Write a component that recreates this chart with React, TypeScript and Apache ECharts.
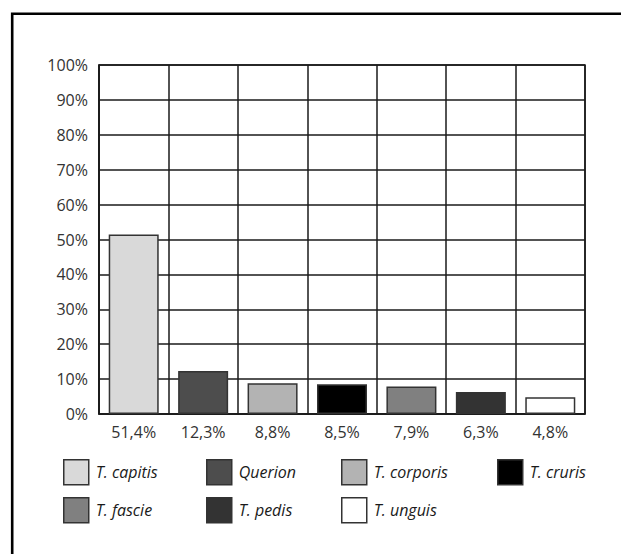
import React, { useEffect, useRef } from "react";
import * as echarts from "echarts";

// Species shown in the legend, one bar each
const species = [
  "T. capitis",
  "Querion",
  "T. corporis",
  "T. cruris",
  "T. fascie",
  "T. pedis",
  "T. unguis",
];

// Share of cases per species (%)
const shares = [51.4, 12.3, 8.8, 8.5, 7.9, 6.3, 4.8];

// Fill colour per species
const fills = ["#d9d9d9", "#4d4d4d", "#b3b3b3", "#000000", "#808080", "#333333", "#ffffff"];

// Legend layout: column x positions and row y positions
const legendCols = [63, 206, 341, 497];
const legendRows = [459, 497];

const FONT = "'Open Sans', 'Noto Sans', sans-serif";
const LINE = "#1a1a1a";

function formatPct(v: number): string {
  return v.toFixed(1).replace(".", ",") + "%";
}

export default function App() {
  const ref = useRef<HTMLDivElement>(null);

  useEffect(() => {
    document.body.style.margin = "0";
    if (!ref.current) return;
    const chart = echarts.init(ref.current, null, { renderer: "svg" });

    const series = species.map((name, i) => ({
      name,
      type: "bar",
      barWidth: 50,
      barGap: "-100%",
      data: shares.map((v, j) => (j === i ? v : "-")),
      itemStyle: { color: fills[i], borderColor: "#333333", borderWidth: 1.5 },
    }));

    const legends = species.map((name, i) => ({
      data: [name],
      left: legendCols[i % 4],
      top: legendRows[Math.floor(i / 4)],
      padding: 0,
      itemWidth: 25,
      itemHeight: 25,
      selectedMode: false,
      icon: "rect",
      itemStyle: { borderColor: "#333333", borderWidth: 1.5 },
      textStyle: {
        fontFamily: FONT,
        fontSize: 16,
        fontStyle: "italic",
        color: "#1a1a1a",
        padding: [0, 0, 0, 2],
      },
    }));

    chart.setOption({
      animation: false,
      backgroundColor: "#ffffff",
      grid: {
        left: 99,
        right: 36,
        top: 65,
        bottom: 140,
        show: true,
        borderColor: LINE,
        borderWidth: 1.5,
      },
      xAxis: {
        type: "category",
        data: species,
        axisLine: { lineStyle: { color: LINE, width: 1.5 } },
        axisTick: { show: false },
        splitLine: { show: true, lineStyle: { color: LINE, width: 1.5 } },
        axisLabel: {
          margin: 10,
          fontFamily: FONT,
          fontSize: 16,
          color: "#333333",
          formatter: (_: string, idx: number) => formatPct(shares[idx]),
        },
      },
      yAxis: {
        type: "value",
        min: 0,
        max: 100,
        interval: 10,
        axisLine: { show: true, lineStyle: { color: LINE, width: 1.5 } },
        axisTick: { show: false },
        splitLine: { show: true, lineStyle: { color: LINE, width: 1.5 } },
        axisLabel: {
          margin: 11,
          fontFamily: FONT,
          fontSize: 16,
          color: "#333333",
          formatter: "{value}%",
        },
      },
      legend: legends,
      series,
      graphic: [
        {
          type: "rect",
          shape: { x: 12.2, y: 13.7, width: 800, height: 800 },
          style: { fill: "none", stroke: "#000000", lineWidth: 2.6 },
          silent: true,
        },
      ],
    });

    return () => chart.dispose();
  }, []);

  return <div ref={ref} style={{ width: 621, height: 554 }} />;
}
